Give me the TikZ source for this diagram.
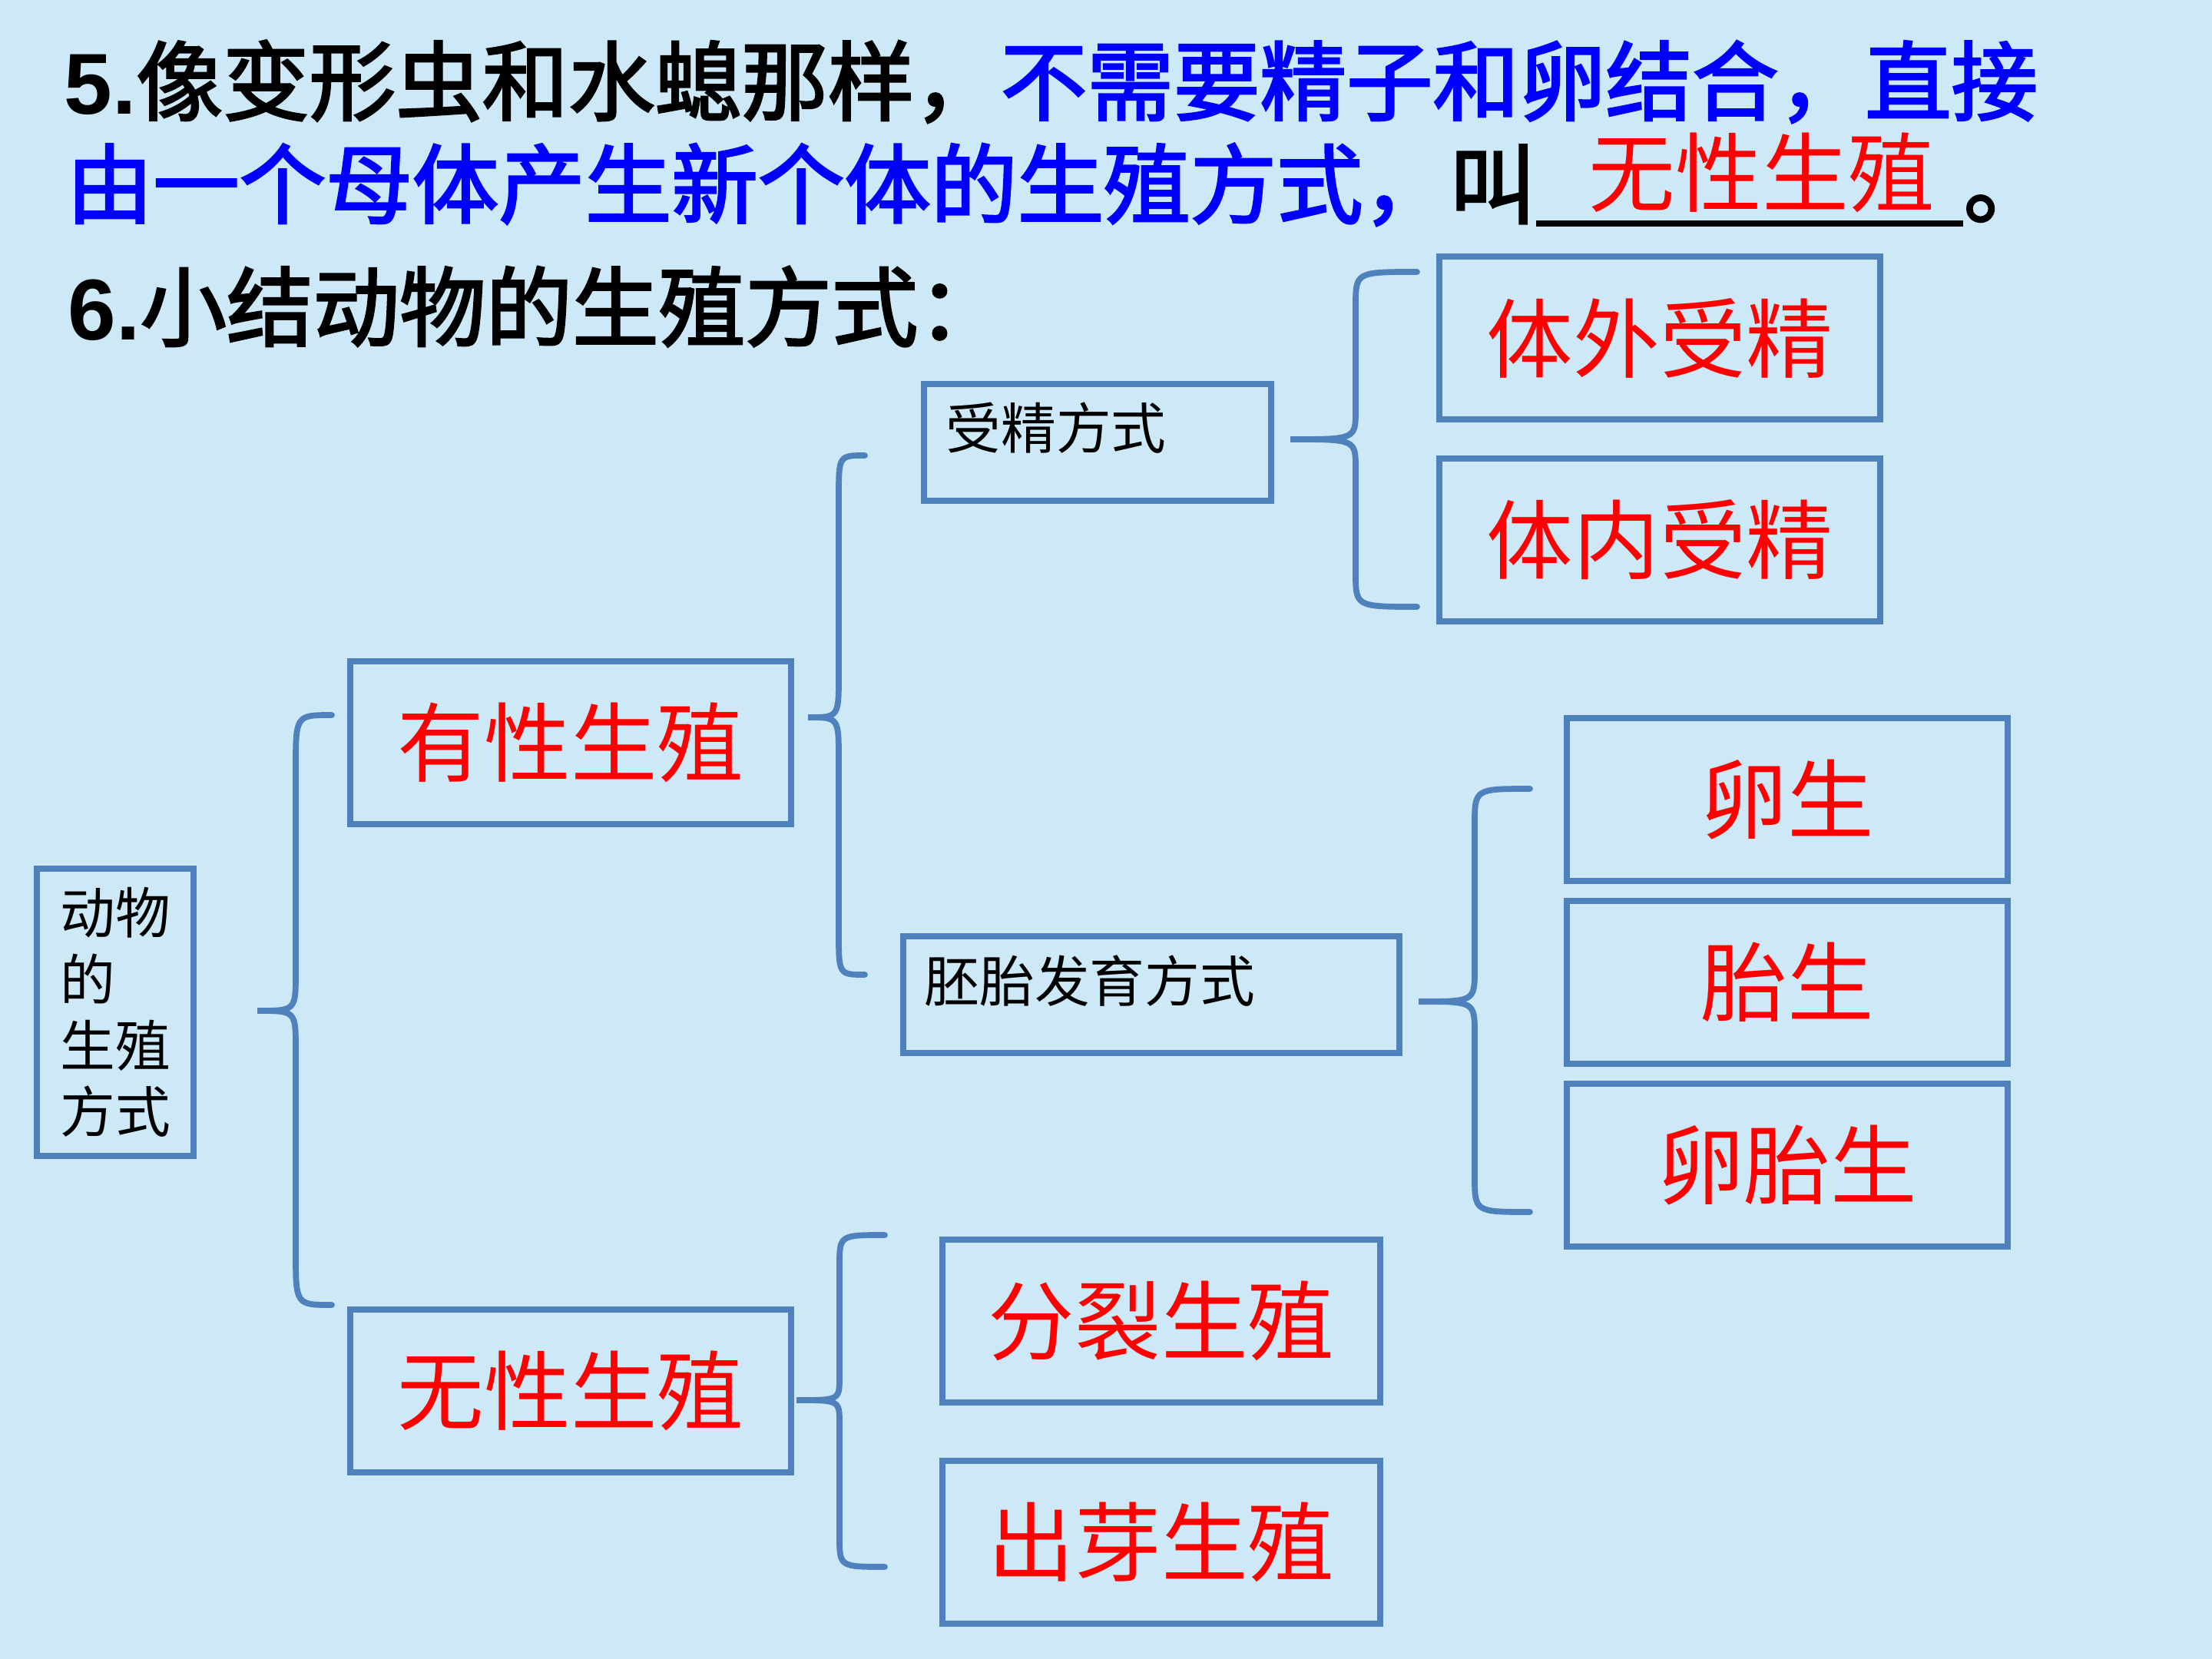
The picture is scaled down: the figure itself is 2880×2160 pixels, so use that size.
\documentclass[tikz,border=0pt]{standalone}
\usepackage{fontspec}
\setmainfont{Noto Sans CJK SC}
\newfontfamily\headfont[FakeBold=2.5]{Noto Sans CJK SC}
\newfontfamily\arialfont{Liberation Sans}
\definecolor{bgc}{RGB}{205,232,246}
\definecolor{boxblue}{RGB}{79,129,189}
\definecolor{pblue}{RGB}{0,0,255}
\definecolor{pred}{RGB}{255,0,0}
\newcommand\mybrace[8]{\draw[bracestroke] (#3,#4) .. controls (#2,#4) .. (#2,#4+#7) -- (#2,#5-#8) .. controls (#2,#5) .. (#1,#5) .. controls (#2,#5) .. (#2,#5+#8) -- (#2,#6-#7) .. controls (#2,#6) .. (#3,#6);}
\begin{document}
\begin{tikzpicture}[x=0.01cm,y=-0.01cm,
  box/.style={draw=boxblue, line width=2.3pt, inner sep=0pt, rectangle},
  bigbox/.style={box, minimum width=5.73cm, minimum height=2.12cm, text=pred, font=\fontsize{32}{38}\selectfont},
  bracestroke/.style={draw=boxblue, line width=2.2pt, line cap=round},
  head/.style={anchor=base west, inner sep=0pt, font=\fontsize{32}{38}\selectfont\headfont},
  small/.style={font=\fontsize{20.4}{24.5}\selectfont, inner sep=0pt}]
\fill[bgc] (0,0) rectangle (2880,2160);
\useasboundingbox (0,0) rectangle (2880,2160);
% header
\node[head] (l1) at (83,148) {{\arialfont\bfseries 5.}像变形虫和水螅那样，\textcolor{pblue}{不需要精子和卵结合，直接}};
\node[head] (l2) at (86,282) {\textcolor{pblue}{由一个母体产生新个体的生殖方式，}叫};
\node[head] (dot) at (2556,282) {。};
\node[inner sep=0pt, text=pred, font=\fontsize{32}{38}\selectfont] (ans) at (2294,225) {无性生殖};
\draw[line width=2.3pt] ([yshift=-0.09cm]l2.base east) -- ([yshift=-0.09cm]dot.base west);
\node[head] (l3) at (88,442) {{\arialfont\bfseries 6.}小结动物的生殖方式：};
% boxes
\node[box, small, align=left, minimum width=2.04cm, minimum height=3.74cm] (root) at (150,1318) {动物\\的\\生殖\\方式};
\node[bigbox] (sex) at (743,967) {有性生殖};
\node[bigbox] (asex) at (743,1811) {无性生殖};
\node[box, minimum width=4.52cm, minimum height=1.52cm] (fert) at (1429,576) {};
\node[small, anchor=west] (fertT) at (1231,557) {受精方式};
\node[bigbox] (ext) at (2161,440) {体外受精};
\node[bigbox] (int) at (2161,703) {体内受精};
\node[box, minimum width=6.45cm, minimum height=1.52cm] (emb) at (1499,1295) {};
\node[small, anchor=west] (embT) at (1203,1277) {胚胎发育方式};
\node[bigbox] (ovi) at (2327,1041) {卵生};
\node[bigbox] (vivi) at (2327,1279) {胎生};
\node[bigbox] (ovo) at (2327,1517) {卵胎生};
\node[bigbox, minimum width=5.69cm] (fis) at (1512,1720) {分裂生殖};
\node[bigbox, minimum width=5.69cm] (bud) at (1512,2008) {出芽生殖};
% braces
\mybrace{335}{385}{432}{931}{1316}{1699}{70}{50}
\mybrace{1052}{1092}{1126}{593}{934}{1269}{55}{55}
\mybrace{1680}{1765}{1845}{354}{572}{790}{45}{38}
\mybrace{1847}{1920}{1992}{1027}{1304}{1578}{47}{42}
\mybrace{1037}{1093}{1152}{1608}{1823}{2040}{40}{30}
\end{tikzpicture}
\end{document}
